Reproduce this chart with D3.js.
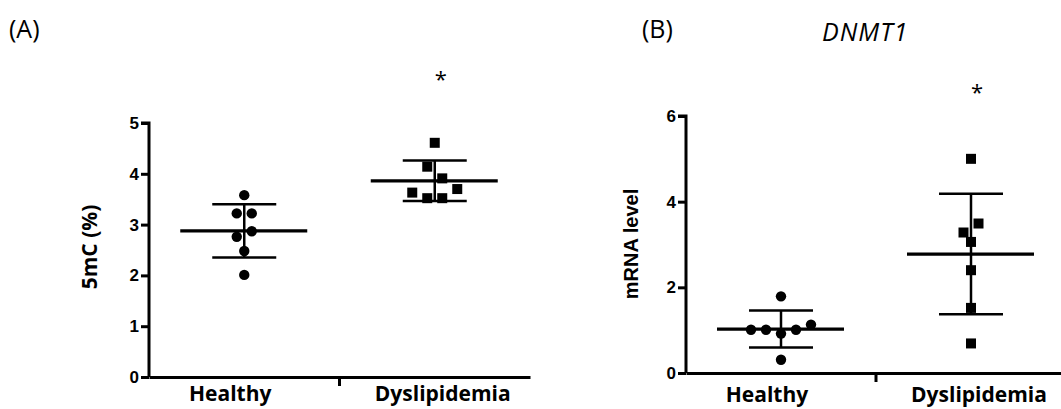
<!DOCTYPE html>
<html>
<head>
<meta charset="utf-8">
<script src="https://cdn.jsdelivr.net/npm/d3@7"></script>
<style>
  body { margin: 0; background: #fff; }
</style>
</head>
<body>
<svg id="chart" width="1061" height="409"></svg>
<script>
// group names and the values
var groups = ["Healthy", "Dyslipidemia"];
var methylHealthy = [3.58, 3.22, 3.22, 2.76, 2.87, 2.48, 2.01];
var methylDyslipidemia = [4.61, 4.14, 3.91, 3.63, 3.52, 3.52, 3.70];
var mrnaHealthy = [1.79, 1.01, 1.01, 0.92, 1.01, 1.13, 0.31];
var mrnaDyslipidemia = [5.0, 3.28, 3.49, 3.06, 2.40, 1.52, 0.69];
var methylTicks = [0, 1, 2, 3, 4, 5];
var mrnaTicks = [0, 2, 4, 6];
var sigMarks = ["", "*"];

var svg = d3.select("#chart");

var panels = [
  {
    letter: "(A)", letterX: 9, title: "", yLabel: "5mC (%)", yLabelX: 97, yLabelY: 247,
    yLabelFont: '"Open Sans", sans-serif', yLabelSize: 21,
    series: [methylHealthy, methylDyslipidemia], ticks: methylTicks, ymax: 5,
    left: 149, right: 530, top: 123, bottom: 377, starY: 87, labelY: 24
  },
  {
    letter: "(B)", letterX: 642, title: "DNMT1", yLabel: "mRNA level", yLabelX: 638, yLabelY: 244,
    yLabelFont: '"Liberation Sans", Arial, sans-serif', yLabelSize: 20,
    series: [mrnaHealthy, mrnaDyslipidemia], ticks: mrnaTicks, ymax: 6,
    left: 686, right: 1066, top: 116, bottom: 373, starY: 100, labelY: 29
  }
];

// spread points that sit at about the same height side by side
function dodge(values, y, step) {
  var idx = values.map(function (v, i) { return i; });
  idx.sort(function (a, b) { return values[b] - values[a] || a - b; });
  var rows = [], row = null;
  idx.forEach(function (i) {
    if (row && y(values[i]) - y(values[row[0]]) < 12) {
      row.push(i);
    } else {
      row = [i];
      rows.push(row);
    }
  });
  var off = [];
  rows.forEach(function (r) {
    r.sort(function (a, b) { return a - b; });
    r.forEach(function (i, k) { off[i] = (k - (r.length - 1) / 2) * step; });
  });
  return off;
}

panels.forEach(function (p) {
  var g = svg.append("g");

  var xScale = d3.scaleBand().domain(groups).range([p.left, p.right]);
  var yScale = d3.scaleLinear().domain([0, p.ymax]).range([p.bottom, p.top]);

  // panel letter and title
  g.append("text")
    .attr("x", p.letterX).attr("y", 38)
    .style("font-family", '"Open Sans", sans-serif')
    .style("font-size", "25px")
    .text(p.letter);

  if (p.title) {
    g.append("text")
      .attr("x", 822).attr("y", 41)
      .style("font-family", '"Open Sans", sans-serif')
      .style("font-style", "italic")
      .style("font-size", "25px")
      .style("letter-spacing", "1px")
      .text(p.title);
  }

  // axes
  var yAxis = d3.axisLeft(yScale).tickValues(p.ticks).tickFormat(d3.format("d"))
    .tickSize(8).tickPadding(2);
  var yG = g.append("g")
    .attr("transform", "translate(" + p.left + ",0)")
    .call(yAxis);
  yG.select(".domain").attr("d", "M-8," + p.top + "H0V" + p.bottom);
  yG.selectAll("path, line").attr("stroke", "#000").attr("stroke-width", 3);
  yG.selectAll(".tick text")
    .style("font-family", '"Liberation Sans", Arial, sans-serif')
    .style("font-weight", "bold")
    .style("font-size", "17px")
    .attr("fill", "#000");

  var xAxis = d3.axisBottom(xScale).tickValues([]).tickSizeOuter(0);
  var xG = g.append("g")
    .attr("transform", "translate(0," + p.bottom + ")")
    .call(xAxis);
  xG.select(".domain").attr("stroke", "#000").attr("stroke-width", 3);

  // little divider tick between the two groups
  xG.append("line")
    .attr("x1", xScale("Dyslipidemia")).attr("x2", xScale("Dyslipidemia"))
    .attr("y1", 0).attr("y2", 9)
    .attr("stroke", "#000").attr("stroke-width", 3);

  xG.selectAll(".group-label")
    .data(groups)
    .enter().append("text")
    .attr("class", "group-label")
    .attr("x", function (d) { return xScale(d) + xScale.bandwidth() / 2 + (d == "Healthy" ? -14 : 8); })
    .attr("y", p.labelY)
    .attr("text-anchor", "middle")
    .style("font-family", '"Open Sans", sans-serif')
    .style("font-weight", "bold")
    .style("font-size", "21px")
    .attr("fill", "#000")
    .text(function (d) { return d; });

  // y label
  g.append("text")
    .attr("transform", "translate(" + p.yLabelX + "," + p.yLabelY + ") rotate(-90)")
    .attr("text-anchor", "middle")
    .style("font-family", p.yLabelFont)
    .style("font-weight", "bold")
    .style("font-size", p.yLabelSize + "px")
    .text(p.yLabel);

  // points, mean and SD
  p.series.forEach(function (values, gi) {
    var cx = xScale(groups[gi]) + xScale.bandwidth() / 2;
    var off = dodge(values, yScale, 15);
    var mean = d3.mean(values);
    var sd = d3.deviation(values);

    if (gi == 0) {
      g.selectAll(".dot" + gi)
        .data(values)
        .enter().append("circle")
        .attr("cx", function (d, i) { return cx + off[i]; })
        .attr("cy", function (d) { return yScale(d); })
        .attr("r", 5.2)
        .attr("fill", "#000");
    } else {
      g.selectAll(".sq" + gi)
        .data(values)
        .enter().append("rect")
        .attr("x", function (d, i) { return cx + off[i] - 5; })
        .attr("y", function (d) { return yScale(d) - 5; })
        .attr("width", 10)
        .attr("height", 10)
        .attr("fill", "#000");
    }

    g.append("line")
      .attr("x1", cx).attr("x2", cx)
      .attr("y1", yScale(mean + sd)).attr("y2", yScale(mean - sd))
      .attr("stroke", "#000").attr("stroke-width", 2.5);
    [mean + sd, mean - sd].forEach(function (v) {
      g.append("line")
        .attr("x1", cx - 32).attr("x2", cx + 32)
        .attr("y1", yScale(v)).attr("y2", yScale(v))
        .attr("stroke", "#000").attr("stroke-width", 2.5);
    });
    g.append("line")
      .attr("x1", cx - 64).attr("x2", cx + 63)
      .attr("y1", yScale(mean)).attr("y2", yScale(mean))
      .attr("stroke", "#000").attr("stroke-width", 3.2);

    if (sigMarks[gi]) {
      g.append("text")
        .attr("x", cx + 6).attr("y", p.starY)
        .attr("text-anchor", "middle")
        .style("font-family", '"Open Sans", sans-serif')
        .style("font-size", "22px")
        .text(sigMarks[gi]);
    }
  });
});
</script>
</body>
</html>
